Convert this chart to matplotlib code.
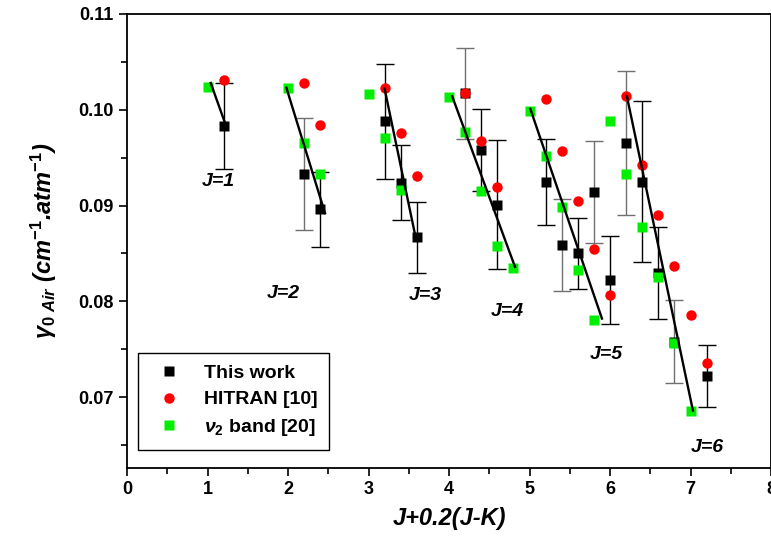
import matplotlib
matplotlib.use('Agg')
import matplotlib.pyplot as plt
import numpy as np

plt.rcParams['font.family'] = ['Liberation Sans', 'DejaVu Sans']
plt.rcParams['mathtext.fontset'] = 'custom'
plt.rcParams['mathtext.rm'] = 'Liberation Sans:bold'
plt.rcParams['mathtext.it'] = 'Liberation Sans:bold:italic'
plt.rcParams['mathtext.bf'] = 'Liberation Sans:bold'

# this work (with error bars)
this_x = [1.2, 2.2, 2.4, 3.2, 3.4, 3.6, 4.2, 4.4, 4.6, 5.2, 5.4, 5.6, 5.8, 6.0, 6.2, 6.4, 6.6, 6.8, 7.2]
this_y = [0.0983, 0.0933, 0.0896, 0.0988, 0.0924, 0.0867, 0.1017, 0.0958, 0.0901, 0.0925,
          0.0859, 0.0850, 0.0914, 0.0822, 0.0965, 0.0925, 0.0830, 0.0758, 0.0722]
this_err = [0.0045, 0.0058, 0.0039, 0.0060, 0.0039, 0.0037, 0.0047, 0.0043, 0.0067, 0.0045,
            0.0048, 0.0037, 0.0053, 0.0046, 0.0075, 0.0084, 0.0048, 0.0043, 0.0032]
err_gray = [False, True, False, False, False, False, True, False, False, False,
            True, False, True, False, True, False, False, True, False]

# HITRAN [10]
hitran_x = [1.2, 2.2, 2.4, 3.2, 3.4, 3.6, 4.2, 4.4, 4.6, 5.2, 5.4, 5.6, 5.8, 6.0,
            6.2, 6.4, 6.6, 6.8, 7.0, 7.2]
hitran_y = [0.1031, 0.1028, 0.0984, 0.1023, 0.0976, 0.0931, 0.1017, 0.0967, 0.0919, 0.1011,
            0.0957, 0.0905, 0.0855, 0.0807, 0.1014, 0.0942, 0.0890, 0.0837, 0.0786, 0.0736]

# nu2 band [20]
nu2_x = [1.0, 2.0, 2.2, 2.4, 3.0, 3.2, 3.4, 4.0, 4.2, 4.4, 4.6, 4.8, 5.0, 5.2, 5.4, 5.6,
         5.8, 6.0, 6.2, 6.4, 6.6, 6.8, 7.0]
nu2_y = [0.1024, 0.1023, 0.0965, 0.0933, 0.1016, 0.0971, 0.0916, 0.1013, 0.0977, 0.0915,
         0.0858, 0.0835, 0.0999, 0.0952, 0.0899, 0.0833, 0.0781, 0.0988, 0.0933, 0.0878,
         0.0825, 0.0757, 0.0686]

# fitted lines, one per J
fit_x0 = [1.04, 1.98, 3.20, 4.04, 5.01, 6.21]
fit_x1 = [1.21, 2.46, 3.59, 4.82, 5.90, 7.03]
fit_y0 = [0.1028, 0.1023, 0.1022, 0.1014, 0.1001, 0.1014]
fit_y1 = [0.0988, 0.0892, 0.0865, 0.0836, 0.0782, 0.0686]

j_labels = ['J=1', 'J=2', 'J=3', 'J=4', 'J=5', 'J=6']
j_lab_x = [1.13, 1.94, 3.70, 4.73, 5.95, 7.21]
j_lab_y = [0.0925, 0.0808, 0.0806, 0.0789, 0.0745, 0.0647]

fig = plt.figure(figsize=(7.71, 5.53), dpi=100)
ax = fig.add_axes([127/771, 85/553, 644/771, 454/553])

for i in range(len(this_x)):
    c = '#707070' if err_gray[i] else 'black'
    ax.errorbar(this_x[i], this_y[i], yerr=this_err[i], fmt='none', ecolor=c,
                elinewidth=1.0, capsize=6.5, capthick=1.0, zorder=2)
ax.plot(this_x, this_y, 's', color='black', ms=7, mec='none', label='This work', zorder=3)
ax.plot(hitran_x, hitran_y, 'o', color='red', ms=7.5, mec='none', label='HITRAN [10]', zorder=4)
ax.plot(nu2_x, nu2_y, 's', color='#00ee00', ms=7, mec='none', label=r'$\nu_2$ band [20]', zorder=5)

for i in range(len(fit_x0)):
    ax.plot([fit_x0[i], fit_x1[i]], [fit_y0[i], fit_y1[i]], color='black', lw=1.7, zorder=6)

for i in range(len(j_labels)):
    ax.text(j_lab_x[i], j_lab_y[i], j_labels[i], fontsize=14, fontweight='bold',
            fontstyle='italic', ha='center', va='center')

ax.set_xlim(0, 8)
ax.set_ylim(0.0626, 0.11)
ax.set_xticks(np.arange(0, 9, 1))
ax.set_xticks(np.arange(0.5, 8, 1), minor=True)
ax.set_yticks([0.07, 0.08, 0.09, 0.10, 0.11])
ax.set_yticks([0.065, 0.075, 0.085, 0.095, 0.105], minor=True)
ax.set_yticklabels(['0.07', '0.08', '0.09', '0.10', '0.11'])
ax.tick_params(which='major', direction='out', length=6, width=1.2, labelsize=13)
ax.tick_params(which='minor', direction='out', length=4, width=1.2)
for lab in ax.get_xticklabels() + ax.get_yticklabels():
    lab.set_fontweight('bold')
for s in ax.spines.values():
    s.set_linewidth(1.3)

ax.set_xlabel('J+0.2(J-K)', fontsize=17, fontweight='bold', fontstyle='italic', labelpad=6)
ax.set_ylabel(r'$\gamma_{0\ Air}$ (cm$^{-1}$.atm$^{-1}$)', fontsize=17, fontweight='bold',
              fontstyle='italic', labelpad=14)

leg = ax.legend(loc='lower left', bbox_to_anchor=(0.017, 0.04), borderaxespad=0,
                fancybox=False, edgecolor='black', framealpha=1,
                prop={'weight': 'bold', 'size': 14},
                labelspacing=0.45, handletextpad=0.8, borderpad=0.6)
leg.get_frame().set_linewidth(1.0)

fig.savefig('out.png', dpi=100)
